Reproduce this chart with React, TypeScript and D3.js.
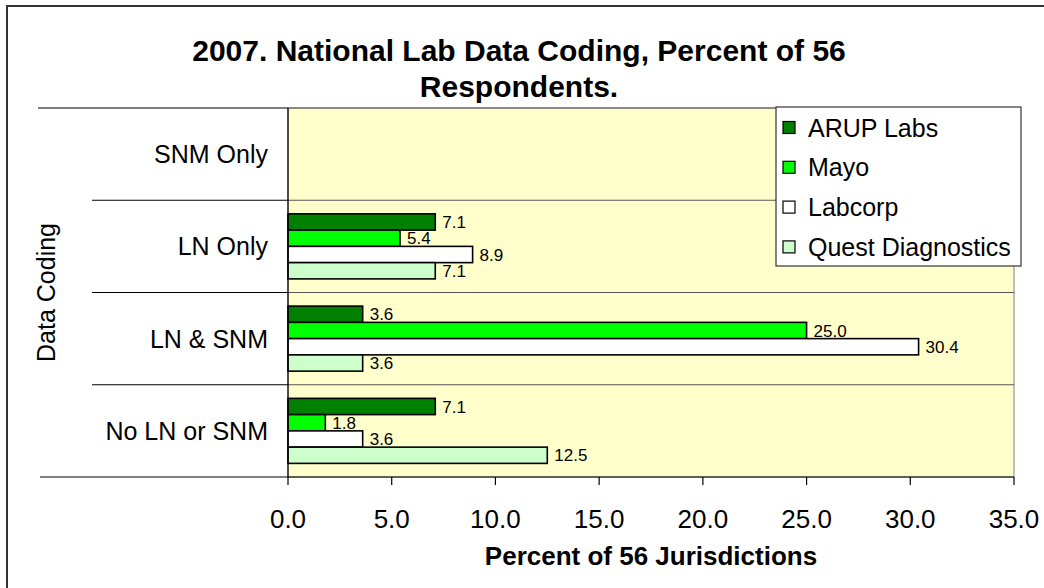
import React from "react";
import * as d3 from "d3";

const categories = ["SNM Only", "LN Only", "LN & SNM", "No LN or SNM"];
const seriesNames = ["ARUP Labs", "Mayo", "Labcorp", "Quest Diagnostics"];
const seriesColors = ["#008000", "#00FF00", "#FFFFFF", "#CCFFCC"];
const arup: (number | null)[] = [null, 7.1, 3.6, 7.1];
const mayo: (number | null)[] = [null, 5.4, 25.0, 1.8];
const labcorp: (number | null)[] = [null, 8.9, 30.4, 3.6];
const quest: (number | null)[] = [null, 7.1, 3.6, 12.5];
const seriesValues = [arup, mayo, labcorp, quest];
const xTicks = [0, 5, 10, 15, 20, 25, 30, 35];

const W = 1044;
const H = 588;
const FONT = "'Liberation Sans', Arial, Helvetica, sans-serif";

export default function App() {
  const plot = { left: 288, right: 1014, top: 108, bottom: 477 };
  const x = d3.scaleLinear().domain([0, 35]).range([plot.left, plot.right]);
  const y = d3.scaleBand<string>().domain(categories).range([plot.top, plot.bottom]);
  const bw = y.bandwidth();
  const groupH = bw * 0.705;
  const off = (bw - groupH) / 2;
  const inner = d3.scaleBand<string>().domain(seriesNames).range([off, off + groupH]);
  const boundaries = categories.map((c) => y(c) as number);

  return (
    <svg
      width={W}
      height={H}
      style={{ position: "absolute", left: 0, top: 0, background: "#fff" }}
      fontFamily={FONT}
    >
      <rect x={0} y={0} width={W} height={H} fill="#fff" />
      {/* outer chart border */}
      <rect x={7} y={6} width={1100} height={700} fill="#fff" stroke="#333" strokeWidth={2} />

      {/* title */}
      <text x={519} y={61} textAnchor="middle" fontSize={30} fontWeight="bold" fill="#000">
        2007. National Lab Data Coding, Percent of 56
      </text>
      <text x={519} y={97} textAnchor="middle" fontSize={30} fontWeight="bold" fill="#000">
        Respondents.
      </text>

      {/* plot background */}
      <rect
        x={plot.left}
        y={plot.top}
        width={plot.right - plot.left}
        height={plot.bottom - plot.top}
        fill="#FFFFCC"
        stroke="#808080"
        strokeWidth={1}
      />

      {/* category separators */}
      {boundaries.map((b, i) => (
        <g key={"sep" + i}>
          <line x1={i === 0 ? 38 : 92} x2={plot.left} y1={b} y2={b} stroke="#000" strokeWidth={1.2} />
          <line x1={plot.left} x2={plot.right} y1={b} y2={b} stroke="#555" strokeWidth={1} />
        </g>
      ))}

      {/* bars */}
      {categories.map((c, ci) =>
        seriesNames.map((s, si) => {
          const v = seriesValues[si][ci];
          if (v === null || v === undefined) return null;
          const by = (y(c) as number) + (inner(s) as number);
          const bh = inner.bandwidth();
          return (
            <g key={c + s}>
              <rect
                x={x(0)}
                y={by}
                width={x(v) - x(0)}
                height={bh}
                fill={seriesColors[si]}
                stroke="#000"
                strokeWidth={1.6}
              />
              <text
                x={x(v) + 7}
                y={by + bh / 2}
                dy="0.36em"
                fontSize={17}
                fill="#000"
              >
                {d3.format(".1f")(v)}
              </text>
            </g>
          );
        })
      )}

      {/* value axis */}
      <line x1={40} x2={plot.right} y1={plot.bottom} y2={plot.bottom} stroke="#000" strokeWidth={1.2} />
      <line x1={plot.left} x2={plot.left} y1={plot.top} y2={plot.bottom} stroke="#000" strokeWidth={1.2} />
      {xTicks.map((t) => (
        <g key={"t" + t}>
          <line x1={x(t)} x2={x(t)} y1={plot.bottom} y2={plot.bottom + 8} stroke="#000" strokeWidth={1.2} />
          <text x={x(t)} y={528} textAnchor="middle" fontSize={26} fill="#000">
            {d3.format(".1f")(t)}
          </text>
        </g>
      ))}
      <text x={651} y={565} textAnchor="middle" fontSize={26} fontWeight="bold" fill="#000">
        Percent of 56 Jurisdictions
      </text>

      {/* category labels */}
      {categories.map((c) => (
        <text
          key={"cl" + c}
          x={268}
          y={(y(c) as number) + bw / 2}
          dy="0.36em"
          textAnchor="end"
          fontSize={25}
          fill="#000"
        >
          {c}
        </text>
      ))}
      <text
        transform={`translate(46, ${(plot.top + plot.bottom) / 2}) rotate(-90)`}
        textAnchor="middle"
        dy="0.36em"
        fontSize={25}
        fill="#000"
      >
        Data Coding
      </text>

      {/* legend */}
      <rect x={776} y={107} width={245} height={159} fill="#fff" stroke="#333" strokeWidth={1.2} />
      {seriesNames.map((s, i) => {
        const cy = 127.5 + i * 39.8;
        return (
          <g key={"lg" + s}>
            <rect x={783} y={cy - 6} width={12} height={12} fill={seriesColors[i]} stroke="#000" strokeWidth={1.2} />
            <text x={808} y={cy} dy="0.36em" fontSize={25} fill="#000">
              {s}
            </text>
          </g>
        );
      })}
    </svg>
  );
}
